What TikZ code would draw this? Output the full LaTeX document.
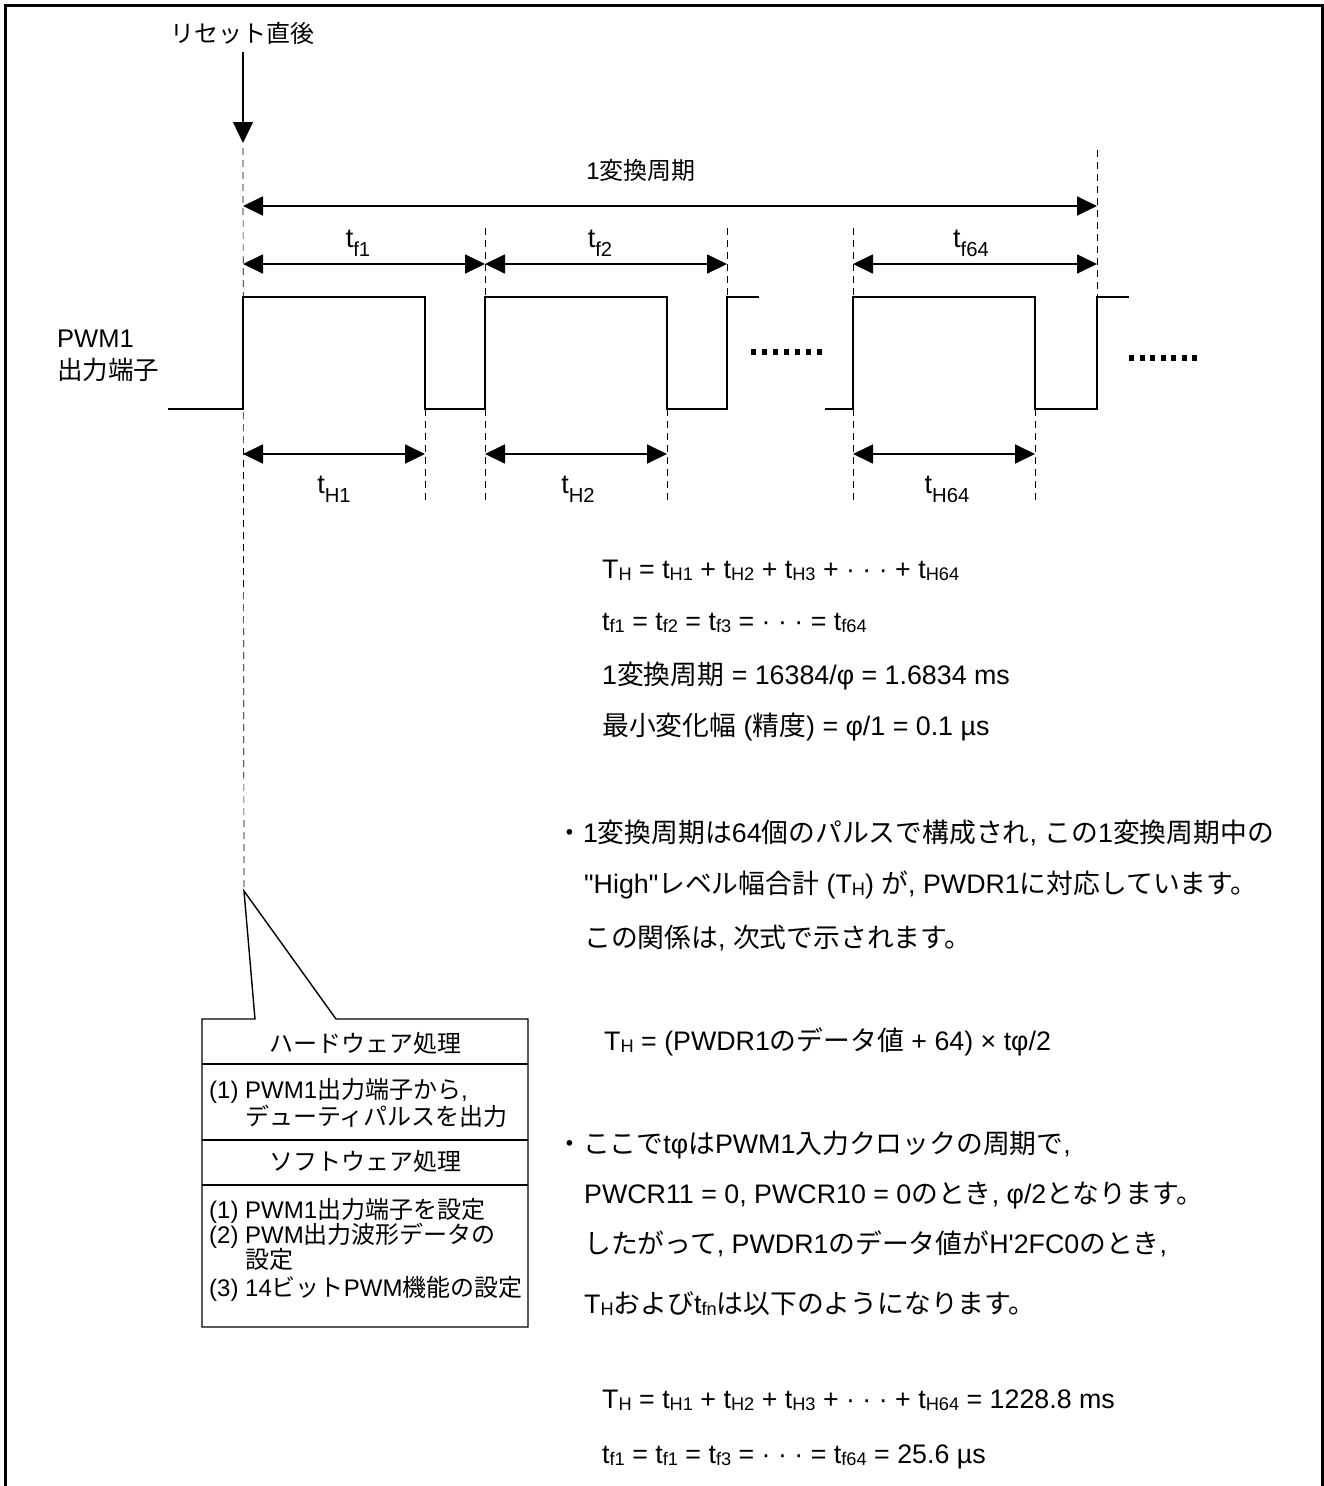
\documentclass[tikz,border=0pt]{standalone}
\usepackage{fontspec}
\usetikzlibrary{arrows.meta}
\setmainfont{Liberation Sans}[Ligatures=TeXOff]
\newfontfamily\jpfont{Noto Sans CJK JP}

% Japanese characters switch to the CJK font by themselves
\XeTeXinterchartokenstate=1
\newXeTeXintercharclass\jpclass
\newcount\jpc
\newcommand{\jprange}[2]{\jpc=#1\relax
  \loop\XeTeXcharclass\jpc=\jpclass
  \ifnum\jpc<#2\advance\jpc by 1\relax\repeat}
\jprange{"3000}{"30FF}
\jprange{"4E00}{"9FFF}
\jprange{"FF00}{"FFEF}
\XeTeXinterchartoks 0 \jpclass = {\jpfont}
\XeTeXinterchartoks 4095 \jpclass = {\jpfont}
\XeTeXinterchartoks \jpclass 0 = {\rmfamily}
\XeTeXinterchartoks \jpclass 4095 = {\rmfamily}

% subscripts
\newcommand{\lo}[1]{\raisebox{-0.08em}{\scalebox{0.68}{#1}}}
\newcommand{\dlo}[1]{\raisebox{-0.35em}{\scalebox{0.75}{#1}}}

\begin{document}
\begin{tikzpicture}[x=1pt,y=-1pt,
  wave/.style={line width=2.6pt},
  dim/.style={line width=1.8pt,{Triangle[length=20pt,width=19pt]}-{Triangle[length=20pt,width=19pt]}},
  guide/.style={line width=0.7pt,dash pattern=on 7pt off 5pt},
  lbl/.style={inner sep=0pt,anchor=base,font=\fontsize{27}{30}\selectfont},
  body/.style={inner sep=0pt,anchor=base west,font=\fontsize{26.8}{30}\selectfont},
  boxtxt/.style={inner sep=0pt,anchor=base west,font=\fontsize{24}{28}\selectfont}]
\useasboundingbox (0,0) rectangle (1324,1486);
\draw[line width=3pt] (5,1486) -- (5,5) -- (1322,5) -- (1322,1486);

% Edges of the pulses and levels
\coordinate (e1) at (243,0);
\coordinate (e2) at (425,0);
\coordinate (e3) at (485,0);
\coordinate (e4) at (667,0);
\coordinate (e5) at (727,0);
\coordinate (e6) at (853,0);
\coordinate (e7) at (1035,0);
\coordinate (e8) at (1097,0);
\coordinate (hi) at (0,297);
\coordinate (lo) at (0,409);
\coordinate (tip) at (244,891);

% Reset mark
\node[inner sep=0pt,anchor=base,font=\fontsize{24}{28}\selectfont] (reset) at (242,42) {リセット直後};
\draw[line width=1.2pt,-{Triangle[length=21pt,width=20pt]}] (e1|-0,52) -- (e1|-0,143);

% Dashed guides
\draw[guide] (e1|-0,148) -- (tip);
\draw[guide] (e8|-0,150) -- (e8|-hi);
\foreach \e in {e3,e5,e6} \draw[guide] (\e|-0,228) -- (\e|-hi);
\foreach \e in {e2,e3,e4,e6,e7} \draw[guide] (\e|-lo) -- (\e|-0,502);

% Waveform
\draw[wave] (168,409) -- (e1|-lo) -- (e1|-hi) -- (e2|-hi) -- (e2|-lo) -- (e3|-lo) -- (e3|-hi)
  -- (e4|-hi) -- (e4|-lo) -- (e5|-lo) -- (e5|-hi) -- (759,297);
\draw[wave] (825,409) -- (e6|-lo) -- (e6|-hi) -- (e7|-hi) -- (e7|-lo) -- (e8|-lo) -- (e8|-hi) -- (1129,297);
\foreach \i in {0,...,6} \fill (751+\i*11,349) rectangle ++(5,6);
\foreach \i in {0,...,6} \fill (1129+\i*10.5,355) rectangle ++(5,6);

% Periods
\node[inner sep=0pt,anchor=base,font=\fontsize{24}{28}\selectfont] (cycle) at (641,179) {1変換周期};
\draw[dim] (e1|-0,206) -- (e8|-0,206);
\draw[dim] (e1|-0,264) -- (e3|-0,264);
\draw[dim] (e3|-0,264) -- (e5|-0,264);
\draw[dim] (e6|-0,264) -- (e8|-0,264);
\node[lbl] (tf1) at (358,247) {t\dlo{f1}};
\node[lbl] (tf2) at (600,247) {t\dlo{f2}};
\node[lbl] (tf64) at (971,247) {t\dlo{f64}};

% High widths
\draw[dim] (e1|-0,454) -- (e2|-0,454);
\draw[dim] (e3|-0,454) -- (e4|-0,454);
\draw[dim] (e6|-0,454) -- (e7|-0,454);
\node[lbl] (th1) at (334,493) {t\dlo{H1}};
\node[lbl] (th2) at (578,493) {t\dlo{H2}};
\node[lbl] (th64) at (947,493) {t\dlo{H64}};

% Pin name
\node[inner sep=0pt,anchor=base west,align=left,font=\fontsize{25.5}{32}\selectfont] (pwm) at (57,379) {PWM1\\出力端子};

% Callout box
\draw[line width=1.4pt] (202,1019) -- (255,1019) -- (tip) -- (336,1019) -- (528,1019) -- (528,1327) -- (202,1327) -- cycle;
\draw[line width=1.4pt] (202,1064) -- (528,1064);
\draw[line width=1.4pt] (202,1140) -- (528,1140);
\draw[line width=1.4pt] (202,1185) -- (528,1185);
\node[boxtxt,anchor=base] (hw) at (365,1052) {ハードウェア処理};
\node[boxtxt] (hw1) at (209,1098) {(1) PWM1出力端子から,};
\node[boxtxt] (hw2) at (245,1125) {デューティパルスを出力};
\node[boxtxt,anchor=base] (sw) at (365,1170) {ソフトウェア処理};
\node[boxtxt] (sw1) at (209,1218) {(1) PWM1出力端子を設定};
\node[boxtxt] (sw2) at (209,1243) {(2) PWM出力波形データの};
\node[boxtxt] (sw3) at (245,1268) {設定};
\node[boxtxt] (sw4) at (209,1296) {(3) 14ビットPWM機能の設定};

% Formulas and notes
\node[body] (eq1) at (602,578) {T\lo{H} = t\lo{H1} + t\lo{H2} + t\lo{H3} + · · · + t\lo{H64}};
\node[body] (eq2) at (602,630) {t\lo{f1} = t\lo{f2} = t\lo{f3} = · · · = t\lo{f64}};
\node[body] (eq3) at (602,684) {1変換周期 = 16384/φ = 1.6834 ms};
\node[body] (eq4) at (602,735) {最小変化幅 (精度) = φ/1 = 0.1 µs};
\node[body] (n1) at (556,842) {・1変換周期は64個のパルスで構成され, この1変換周期中の};
\node[body] (n2) at (584,893) {"High"レベル幅合計 (T\lo{H}) が, PWDR1に対応しています。};
\node[body] (n3) at (584,947) {この関係は, 次式で示されます。};
\node[body] (eq5) at (604,1050) {T\lo{H} = (PWDR1のデータ値 + 64) × tφ/2};
\node[body] (n4) at (556,1153) {・ここでtφはPWM1入力クロックの周期で,};
\node[body] (n5) at (584,1203) {PWCR11 = 0, PWCR10 = 0のとき, φ/2となります。};
\node[body] (n6) at (584,1253) {したがって, PWDR1のデータ値がH'2FC0のとき,};
\node[body] (n7) at (584,1313) {T\lo{H}およびt\lo{fn}は以下のようになります。};
\node[body] (eq6) at (602,1408) {T\lo{H} = t\lo{H1} + t\lo{H2} + t\lo{H3} + · · · + t\lo{H64} = 1228.8 ms};
\node[body] (eq7) at (602,1463) {t\lo{f1} = t\lo{f1} = t\lo{f3} = · · · = t\lo{f64} = 25.6 µs};
\end{tikzpicture}
\end{document}
